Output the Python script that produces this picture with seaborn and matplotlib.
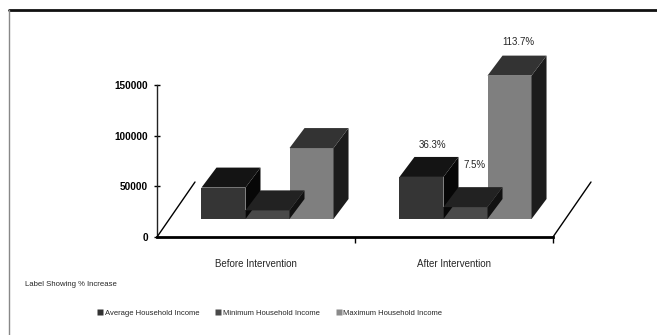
import matplotlib
matplotlib.use("Agg")
import numpy as np
import pandas as pd
import matplotlib.pyplot as plt
import seaborn as sns
from matplotlib import transforms as mtransforms
from matplotlib.patches import Polygon
from matplotlib.lines import Line2D

# ---------------- data ----------------
categories = ["Before Intervention", "After Intervention"]
series = ["Average Household Income", "Minimum Household Income", "Maximum Household Income"]
avg_income = [31000, 41500]
min_income = [8500, 11700]
max_income = [70000, 141500]
pct_labels = ["36.3%", "7.5%", "113.7%"]   # shown above the "After Intervention" bars
y_ticks = [0, 50000, 100000, 150000]
note_text = "Label Showing % Increase"

df = pd.DataFrame({
    "period": categories * 3,
    "series": [series[0]] * 2 + [series[1]] * 2 + [series[2]] * 2,
    "income": avg_income + min_income + max_income,
})

# ---------------- style ----------------
sns.set_theme(style="white")
plt.rcParams["font.family"] = ["Liberation Sans", "DejaVu Sans"]

front_col = {series[0]: "#353535", series[1]: "#4a4a4a", series[2]: "#7f7f7f"}
top_col = {series[0]: "#141414", series[1]: "#222222", series[2]: "#333333"}
side_col = {series[0]: "#070707", series[1]: "#111111", series[2]: "#1c1c1c"}

W, H = 657, 335
fig = plt.figure(figsize=(W / 100, H / 100), dpi=100)
fig.patch.set_facecolor("white")
ax = fig.add_axes([157 / W, 98 / H, 396 / W, 152 / H])

sns.barplot(data=df, x="period", y="income", hue="series", order=categories,
            hue_order=series, palette=front_col, width=0.667, saturation=1,
            errorbar=None, legend=False, ax=ax)

ax.set_xlim(-0.5, 1.5)
ax.set_ylim(0, 150000)
ax.set_xlabel("")
ax.set_ylabel("")
ax.set_facecolor("none")
for s in ["top", "right"]:
    ax.spines[s].set_visible(False)
ax.spines["bottom"].set_linewidth(2.0)
ax.spines["bottom"].set_color("black")
ax.spines["left"].set_linewidth(1.0)
ax.spines["left"].set_color("#222222")

ax.set_yticks(y_ticks)
ax.set_yticklabels([str(v) for v in y_ticks], fontsize=7.2, fontweight="bold")
ax.tick_params(axis="y", left=True, direction="inout", length=5, width=1, pad=4, colors="black")
ax.set_xticks([0, 1])
ax.set_xticklabels(categories, fontsize=7)
ax.tick_params(axis="x", bottom=False, pad=10)
ax.set_xticks([0.5, 1.5], minor=True)
ax.tick_params(axis="x", which="minor", bottom=True, direction="out", length=4, width=1, color="black")

# ---------------- pseudo-3D ----------------
fdx, fdy = 11.5, 18.0     # shift of front faces (px)
ddx, ddy = 15.0, 20.0     # bar depth (px)
shift = mtransforms.ScaledTranslation(fdx / 100, fdy / 100, fig.dpi_scale_trans)
ident = mtransforms.IdentityTransform()


def series_of(p):
    fc = matplotlib.colors.to_hex(p.get_facecolor())
    for k, v in front_col.items():
        if matplotlib.colors.to_hex(v) == fc:
            return k
    return series[0]


bars = sorted(ax.patches, key=lambda p: p.get_x())
bar_geom = []
for i, p in enumerate(bars):
    s = series_of(p)
    z = 3 + i * 0.1
    x0, x1 = p.get_x(), p.get_x() + p.get_width()
    y1 = p.get_height()
    (X0, Y0) = ax.transData.transform((x0, 0))
    (X1, Y1) = ax.transData.transform((x1, y1))
    X0 += fdx; X1 += fdx; Y0 += fdy; Y1 += fdy
    p.set_transform(ax.transData + shift)
    p.set_edgecolor("none")
    p.set_zorder(z + 0.02)
    p.set_clip_on(False)
    side = Polygon([(X1, Y0), (X1 + ddx, Y0 + ddy), (X1 + ddx, Y1 + ddy), (X1, Y1)],
                   closed=True, transform=ident, facecolor=side_col[s], edgecolor="none",
                   zorder=z, clip_on=False)
    top = Polygon([(X0, Y1), (X1, Y1), (X1 + ddx, Y1 + ddy), (X0 + ddx, Y1 + ddy)],
                  closed=True, transform=ident, facecolor=top_col[s], edgecolor="none",
                  zorder=z + 0.01, clip_on=False)
    fig.add_artist(side)
    fig.add_artist(top)
    bar_geom.append((p.get_x() + p.get_width() / 2, s, (X0 + X1) / 2 + ddx / 2, Y1 + ddy))

# percent labels on After Intervention bars
after = [g for g in bar_geom if g[0] > 0.5]
lift = {series[0]: 12, series[1]: 22, series[2]: 14}
xoff = {series[0]: 4, series[1]: 2, series[2]: 1}
for lab, (_, s, cx, ty) in zip(pct_labels, after):
    fig.text((cx + xoff[s]) / W, (ty + lift[s]) / H, lab, ha="center", va="center",
             fontsize=7, zorder=10)

# floor diagonals
floor_dx, floor_dy = 38, 55
for xv in [-0.5, 1.5]:
    X, Y = ax.transData.transform((xv, 0))
    fig.add_artist(Line2D([X, X + floor_dx], [Y, Y + floor_dy], transform=ident,
                          color="black", lw=1.0, zorder=2))

# note and legend
fig.text(25 / W, 1 - 285 / H, note_text, ha="left", va="center", fontsize=5.6)
handles = [Line2D([], [], marker="s", linestyle="none", markersize=4.5,
                  markerfacecolor=c, markeredgecolor="none")
           for c in ["#333333", "#4a4a4a", "#8a8a8a"]]
fig.legend(handles, series, loc="center", bbox_to_anchor=(270 / W, 1 - 313 / H), ncol=3,
           frameon=False, fontsize=5.5, handlelength=0.6, handletextpad=0.3,
           columnspacing=2.2, borderaxespad=0)

# outer frame (top and left edges)
fig.add_artist(Line2D([9 / W, 1], [1 - 10 / H, 1 - 10 / H], transform=fig.transFigure,
                      color="#111111", lw=2.0))
fig.add_artist(Line2D([9 / W, 9 / W], [0, 1 - 10 / H], transform=fig.transFigure,
                      color="#888888", lw=1.0))

fig.savefig("out.png", dpi=100, facecolor="white")
